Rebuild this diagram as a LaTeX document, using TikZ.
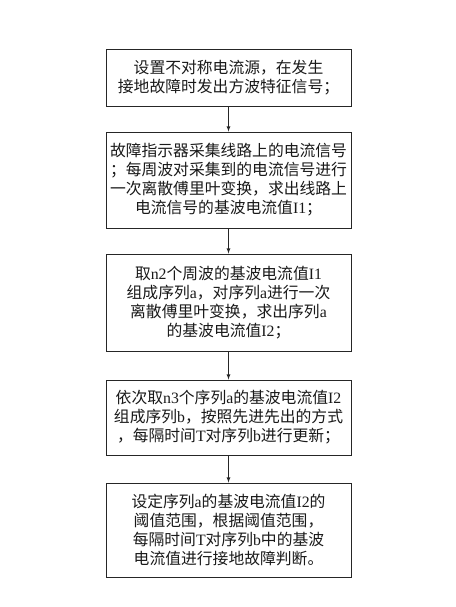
\documentclass[tikz,border=0pt]{standalone}
\usepackage{fontspec}
\setmainfont{Noto Sans CJK SC}
\newfontfamily\en{Liberation Serif}
\usepackage{tikz}
\usetikzlibrary{arrows,positioning}

\newcommand{\lat}[1]{{\en #1}}

\tikzset{
  stepbox/.style={draw=black!85, line width=0.9pt, minimum width=245pt, inner sep=0pt,
    align=center, font=\fontsize{15.8}{19}\selectfont, text=black!90},
  flow/.style={->, >=latex, line width=0.8pt, draw=black!85}
}

\begin{document}
\begin{tikzpicture}[x=1pt, y=-1pt]
\useasboundingbox (0,0) rectangle (455,607);
% nodes
\node[stepbox, minimum height=57pt] (s1) at (228.5,77.5) {设置不对称电流源，在发生\\接地故障时发出方波特征信号；};%
\node[stepbox, minimum height=96pt] (s2) at (228.5,180) {故障指示器采集线路上的电流信号\\；每周波对采集到的电流信号进行\\一次离散傅里叶变换，求出线路上\\电流信号的基波电流值\lat{I1}；};%
\node[stepbox, minimum height=97pt] (s3) at (228.5,302.5) {取\lat{n2}个周波的基波电流值\lat{I1}\\组成序列\lat{a}，对序列\lat{a}进行一次\\离散傅里叶变换，求出序列\lat{a}\\的基波电流值\lat{I2}；};%
\node[stepbox, minimum height=75pt] (s4) at (228.5,417.5) {依次取\lat{n3}个序列\lat{a}的基波电流值\lat{I2}\\组成序列\lat{b}，按照先进先出的方式\\，每隔时间\lat{T}对序列\lat{b}进行更新；};%
\node[stepbox, minimum height=94pt] (s5) at (228.5,530) {设定序列\lat{a}的基波电流值\lat{I2}的\\阈值范围，根据阈值范围，\\每隔时间\lat{T}对序列\lat{b}中的基波\\电流值进行接地故障判断。};%

% arrows
\draw[flow] (s1) -- (s2);
\draw[flow] (s2) -- (s3);
\draw[flow] (s3) -- (s4);
\draw[flow] (s4) -- (s5);

\end{tikzpicture}
\end{document}
